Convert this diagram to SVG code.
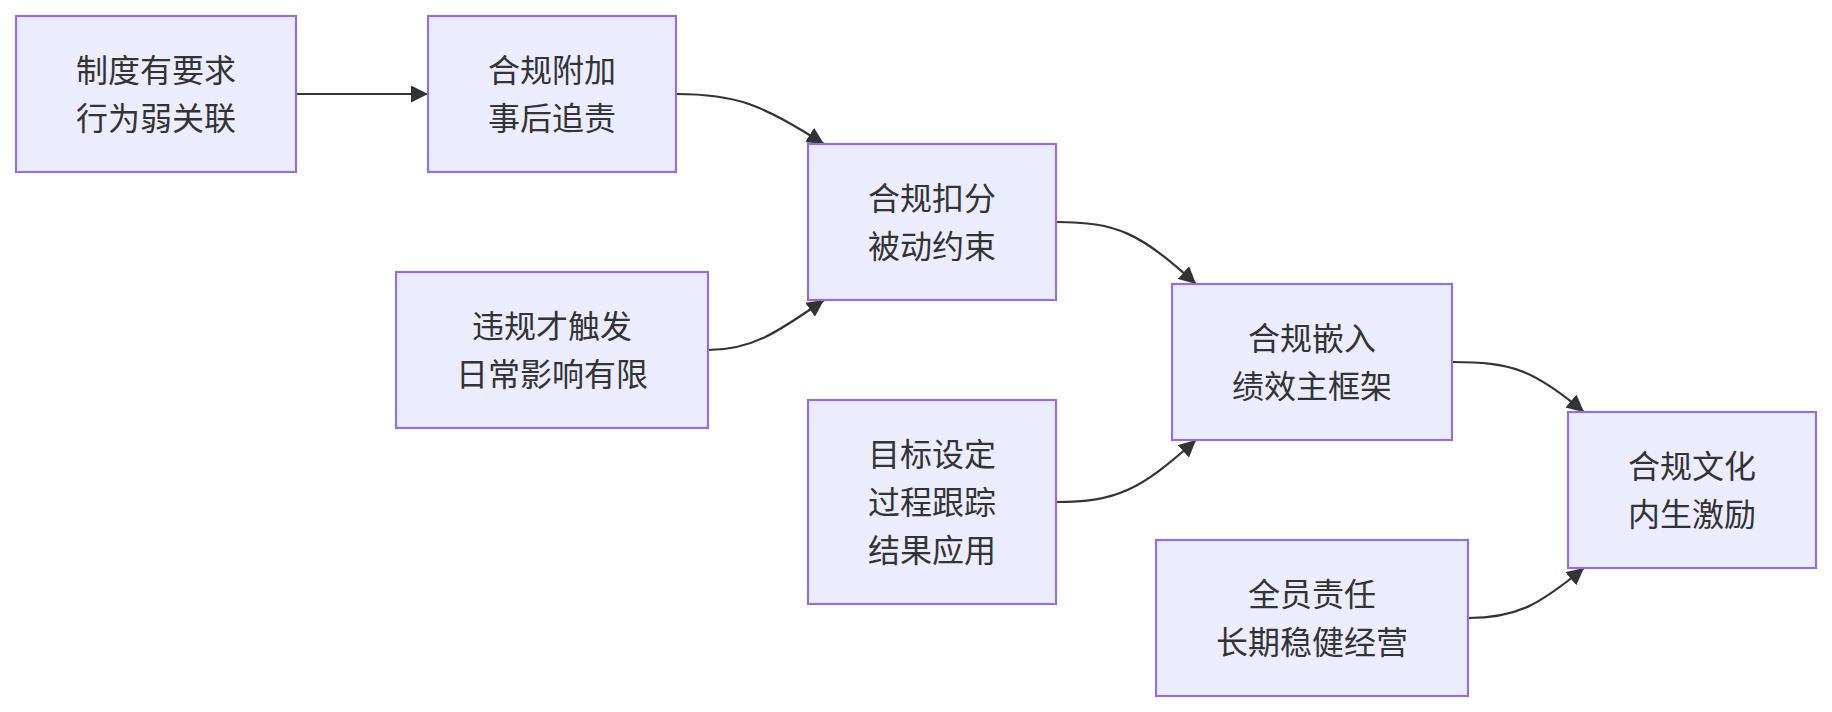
<svg xmlns="http://www.w3.org/2000/svg" width="1832" height="712" viewBox="0 0 1832 712">
<defs>
<style>
.node rect{fill:#ECECFF;stroke:#9370DB;stroke-width:2.2}
.node text{font-family:"Noto Sans CJK SC","Noto Sans",sans-serif;font-size:32px;fill:#333;text-anchor:middle}
.edge{fill:none;stroke:#333;stroke-width:2.2}
</style>
<marker id="arrow" viewBox="0 0 10 10" refX="10" refY="5" markerUnits="userSpaceOnUse" markerWidth="17" markerHeight="17" orient="auto">
<path d="M0,0 L10,5 L0,10 z" fill="#333"/>
</marker>
</defs>
<rect width="1832" height="712" fill="#ffffff"/>
<g id="connectors">
<path class="edge" d="M296,94 L428,94" marker-end="url(#arrow)"/>
<path class="edge" d="M676,94 C737,94 760,104 824,144" marker-end="url(#arrow)"/>
<path class="edge" d="M708,350 C752,350 778,332 824,300" marker-end="url(#arrow)"/>
<path class="edge" d="M1056,222 C1117,222 1140,233 1196,284" marker-end="url(#arrow)"/>
<path class="edge" d="M1056,502 C1117,502 1140,490 1196,440" marker-end="url(#arrow)"/>
<path class="edge" d="M1452,362 C1512,362 1534,370 1584,412" marker-end="url(#arrow)"/>
<path class="edge" d="M1468,618 C1517,618 1539,605 1584,568" marker-end="url(#arrow)"/>
</g>
<g id="n1" class="node"><rect x="16" y="16" width="280" height="156"/><text x="156" y="82">制度有要求</text><text x="156" y="130">行为弱关联</text></g>
<g id="n2" class="node"><rect x="428" y="16" width="248" height="156"/><text x="552" y="82">合规附加</text><text x="552" y="130">事后追责</text></g>
<g id="n3" class="node"><rect x="808" y="144" width="248" height="156"/><text x="932" y="210">合规扣分</text><text x="932" y="258">被动约束</text></g>
<g id="n4" class="node"><rect x="396" y="272" width="312" height="156"/><text x="552" y="338">违规才触发</text><text x="552" y="386">日常影响有限</text></g>
<g id="n5" class="node"><rect x="1172" y="284" width="280" height="156"/><text x="1312" y="350">合规嵌入</text><text x="1312" y="398">绩效主框架</text></g>
<g id="n6" class="node"><rect x="808" y="400" width="248" height="204"/><text x="932" y="466">目标设定</text><text x="932" y="514">过程跟踪</text><text x="932" y="562">结果应用</text></g>
<g id="n7" class="node"><rect x="1156" y="540" width="312" height="156"/><text x="1312" y="606">全员责任</text><text x="1312" y="654">长期稳健经营</text></g>
<g id="n8" class="node"><rect x="1568" y="412" width="248" height="156"/><text x="1692" y="478">合规文化</text><text x="1692" y="526">内生激励</text></g>
</svg>
